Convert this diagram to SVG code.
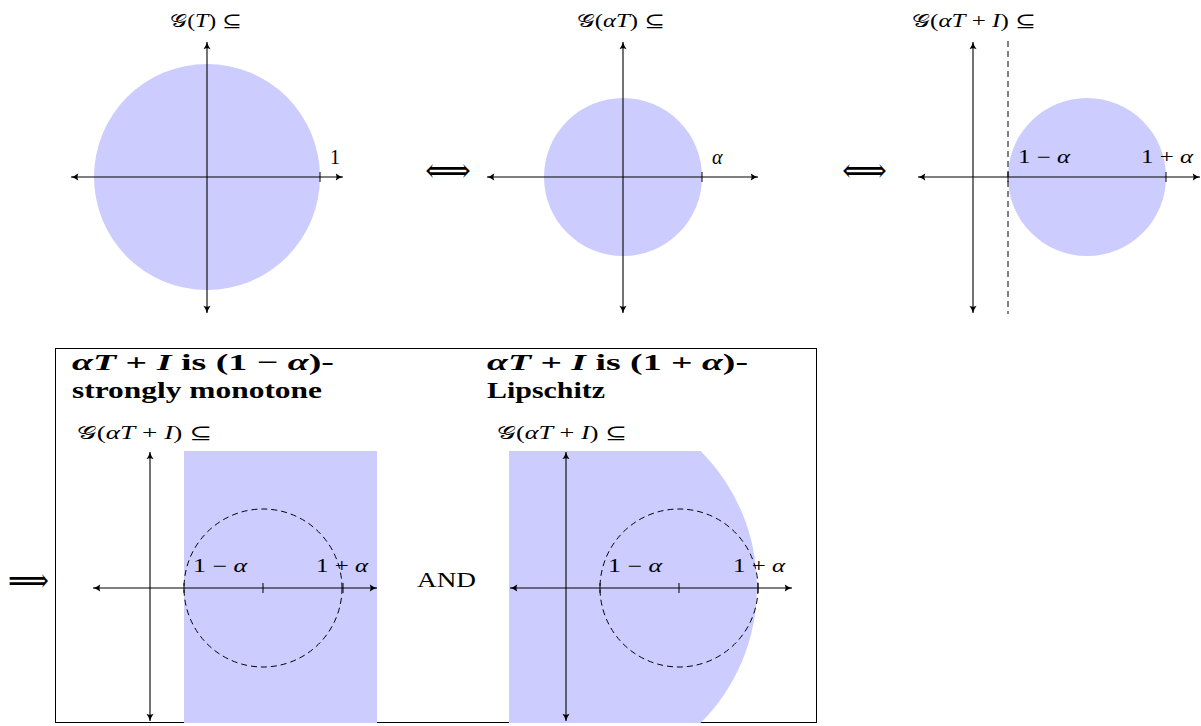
<svg xmlns="http://www.w3.org/2000/svg" width="1201" height="726" viewBox="0 0 1201 726">
<style>
.ax{stroke:#000;stroke-width:1.1;fill:none}
.tk{stroke:#000;stroke-width:1;fill:none}
.dash{stroke:#000;stroke-width:1;fill:none;stroke-dasharray:6,4}
.reg{fill:#ccccff;stroke:none}
.t{font-family:"Liberation Serif","DejaVu Serif",serif;font-size:18px;fill:#000}
.m{font-style:italic}
.h{font-family:"Liberation Serif","DejaVu Serif",serif;font-size:23px;font-weight:bold;fill:#000}
.big{font-family:"DejaVu Serif","Liberation Serif",serif;font-size:34px;fill:#000}
</style>
<defs>
<marker id="ah" viewBox="0 0 10 10" refX="9" refY="5" markerWidth="9" markerHeight="9" markerUnits="userSpaceOnUse" orient="auto-start-reverse">
<path d="M1,1 Q5,4 9,5 Q5,6 1,9 Q3,5 1,1 Z" fill="#000"/>
</marker>
</defs>

<g id="panel1">
<circle class="reg" cx="207" cy="177" r="113"/>
<line class="ax" x1="71" y1="177" x2="343" y2="177" marker-start="url(#ah)" marker-end="url(#ah)"/>
<line class="ax" x1="207" y1="313" x2="207" y2="42" marker-start="url(#ah)" marker-end="url(#ah)"/>
<line class="tk" x1="320" y1="172" x2="320" y2="182"/>
<text class="t" x="330" y="164" style="font-size:20px">1</text>
<text class="t" x="170" y="27" textLength="72" lengthAdjust="spacingAndGlyphs">𝒢(<tspan class="m">T</tspan>) ⊆</text>
</g>

<g id="iff1"><text class="big" x="425" y="182" textLength="46" lengthAdjust="spacingAndGlyphs">⟺</text></g>

<g id="panel2">
<circle class="reg" cx="623" cy="177" r="79"/>
<line class="ax" x1="487" y1="177" x2="758" y2="177" marker-start="url(#ah)" marker-end="url(#ah)"/>
<line class="ax" x1="623" y1="313" x2="623" y2="42" marker-start="url(#ah)" marker-end="url(#ah)"/>
<line class="tk" x1="702" y1="172" x2="702" y2="182"/>
<text class="t m" x="712" y="164" style="font-size:20px">α</text>
<text class="t" x="577" y="27" textLength="88" lengthAdjust="spacingAndGlyphs">𝒢(<tspan class="m">αT</tspan>) ⊆</text>
</g>

<g id="iff2"><text class="big" x="842" y="182" textLength="45" lengthAdjust="spacingAndGlyphs">⟺</text></g>

<g id="panel3">
<circle class="reg" cx="1087" cy="177" r="79"/>
<line class="ax" x1="918" y1="177" x2="1200" y2="177" marker-start="url(#ah)" marker-end="url(#ah)"/>
<line class="ax" x1="973" y1="313" x2="973" y2="42" marker-start="url(#ah)" marker-end="url(#ah)"/>
<line class="dash" x1="1008" y1="41" x2="1008" y2="314"/>
<line class="tk" x1="1008" y1="172" x2="1008" y2="182"/>
<line class="tk" x1="1166" y1="172" x2="1166" y2="182"/>
<text class="t" x="1018" y="163" textLength="52" lengthAdjust="spacingAndGlyphs">1 − <tspan class="m">α</tspan></text>
<text class="t" x="1141" y="163" textLength="52" lengthAdjust="spacingAndGlyphs">1 + <tspan class="m">α</tspan></text>
<text class="t" x="912" y="27" textLength="124" lengthAdjust="spacingAndGlyphs">𝒢(<tspan class="m">αT</tspan> + <tspan class="m">I</tspan>) ⊆</text>
</g>

<g id="implies"><text class="big" x="8" y="592" textLength="41" lengthAdjust="spacingAndGlyphs">⟹</text></g>

<g id="box">
<rect x="55.5" y="348.5" width="761" height="374" fill="none" stroke="#000" stroke-width="1"/>
</g>

<g id="panel4">
<rect class="reg" x="184" y="451" width="193" height="272"/>
<circle class="dash" cx="263" cy="588" r="79"/>
<line class="ax" x1="93" y1="588" x2="377" y2="588" marker-start="url(#ah)" marker-end="url(#ah)"/>
<line class="ax" x1="150" y1="721" x2="150" y2="452" marker-start="url(#ah)" marker-end="url(#ah)"/>
<line class="tk" x1="184" y1="583" x2="184" y2="593"/>
<line class="tk" x1="263" y1="583" x2="263" y2="593"/>
<line class="tk" x1="343" y1="583" x2="343" y2="593"/>
<text class="t" x="193" y="572" textLength="54" lengthAdjust="spacingAndGlyphs">1 − <tspan class="m">α</tspan></text>
<text class="t" x="316" y="572" textLength="52" lengthAdjust="spacingAndGlyphs">1 + <tspan class="m">α</tspan></text>
<text class="t" x="77" y="439" textLength="135" lengthAdjust="spacingAndGlyphs">𝒢(<tspan class="m">αT</tspan> + <tspan class="m">I</tspan>) ⊆</text>
<text class="h" x="72" y="370" textLength="262" lengthAdjust="spacingAndGlyphs"><tspan class="m">αT</tspan> + <tspan class="m">I</tspan>  is  (1 − <tspan class="m">α</tspan>)-</text>
<text class="h" x="72" y="398" textLength="250" lengthAdjust="spacingAndGlyphs">strongly monotone</text>
</g>

<g id="and"><text class="t" x="417" y="587" style="font-size:21px" textLength="59" lengthAdjust="spacingAndGlyphs">AND</text></g>

<g id="panel5">
<path class="reg" d="M509,451 L700.5,451 A192,192 0 0 1 700.5,723 L509,723 Z"/>
<circle class="dash" cx="679" cy="588" r="79"/>
<line class="ax" x1="510" y1="588" x2="792" y2="588" marker-start="url(#ah)" marker-end="url(#ah)"/>
<line class="ax" x1="566" y1="721" x2="566" y2="452" marker-start="url(#ah)" marker-end="url(#ah)"/>
<line class="tk" x1="600" y1="583" x2="600" y2="593"/>
<line class="tk" x1="679" y1="583" x2="679" y2="593"/>
<line class="tk" x1="758" y1="583" x2="758" y2="593"/>
<text class="t" x="608" y="572" textLength="54" lengthAdjust="spacingAndGlyphs">1 − <tspan class="m">α</tspan></text>
<text class="t" x="733" y="572" textLength="52" lengthAdjust="spacingAndGlyphs">1 + <tspan class="m">α</tspan></text>
<text class="t" x="497" y="439" textLength="130" lengthAdjust="spacingAndGlyphs">𝒢(<tspan class="m">αT</tspan> + <tspan class="m">I</tspan>) ⊆</text>
<text class="h" x="487" y="370" textLength="261" lengthAdjust="spacingAndGlyphs"><tspan class="m">αT</tspan> + <tspan class="m">I</tspan>  is  (1 + <tspan class="m">α</tspan>)-</text>
<text class="h" x="487" y="398" textLength="118" lengthAdjust="spacingAndGlyphs">Lipschitz</text>
</g>
</svg>
